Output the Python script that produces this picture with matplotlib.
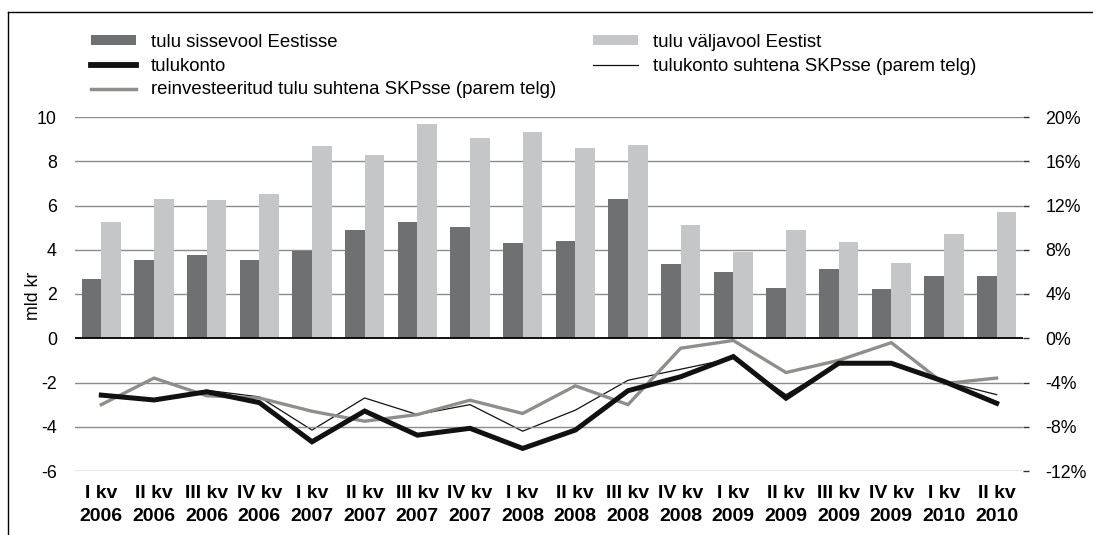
import numpy as np
import matplotlib
matplotlib.use("Agg")
import matplotlib.pyplot as plt
from matplotlib.patches import Patch
from matplotlib.lines import Line2D

plt.rcParams["font.family"] = ["Liberation Sans", "DejaVu Sans"]
plt.rcParams["axes.unicode_minus"] = False

quarters = ["I kv", "II kv", "III kv", "IV kv", "I kv", "II kv", "III kv", "IV kv",
            "I kv", "II kv", "III kv", "IV kv", "I kv", "II kv", "III kv", "IV kv",
            "I kv", "II kv"]
years = ["2006", "2006", "2006", "2006", "2007", "2007", "2007", "2007",
         "2008", "2008", "2008", "2008", "2009", "2009", "2009", "2009",
         "2010", "2010"]

# mld kr (left axis)
inflow = [2.7, 3.55, 3.78, 3.55, 3.96, 4.9, 5.27, 5.04, 4.32,
          4.38, 6.31, 3.37, 3.01, 2.25, 3.14, 2.24, 2.83, 2.83]
outflow = [5.27, 6.31, 6.27, 6.54, 8.71, 8.3, 9.7, 9.07, 9.34,
           8.6, 8.75, 5.14, 3.91, 4.91, 4.37, 3.42, 4.73, 5.72]
income_acc = [-2.57, -2.79, -2.42, -2.91, -4.68, -3.29, -4.38, -4.07, -4.98,
              -4.15, -2.37, -1.74, -0.83, -2.71, -1.13, -1.13, -1.95, -2.94]
# % of GDP (right axis)
income_acc_gdp = [-5.1, -5.5, -4.7, -5.3, -8.3, -5.4, -6.9, -6.0, -8.4,
                  -6.5, -3.8, -2.8, -1.8, -5.1, -2.3, -2.3, -3.9, -5.1]
reinvest_gdp = [-6.0, -3.6, -5.2, -5.4, -6.6, -7.5, -6.9, -5.6, -6.8,
                -4.3, -6.0, -0.9, -0.2, -3.1, -2.0, -0.4, -4.1, -3.6]

W, H = 1093, 535
fig = plt.figure(figsize=(W / 100, H / 100), dpi=100)

ax = fig.add_axes([75 / W, 1 - 471 / H, (1023 - 75) / W, (471 - 117) / H])
ax2 = ax.twinx()
ax.set_zorder(ax2.get_zorder() + 1)
ax.patch.set_visible(False)

x = np.arange(len(quarters))
bw = 0.374
dark = "#6f7072"
light = "#c5c6c8"
gray_line = "#8e8f8b"

ax.bar(x - bw / 2, inflow, bw, color=dark, zorder=2)
ax.bar(x + bw / 2, outflow, bw, color=light, zorder=2)
ax.plot(x, income_acc, color="#111111", lw=3.6, zorder=5, solid_joinstyle="miter")

ax2.plot(x, income_acc_gdp, color="#111111", lw=0.9, zorder=3)
ax2.plot(x, reinvest_gdp, color=gray_line, lw=2.4, zorder=4, solid_joinstyle="miter")

ax.set_xlim(-0.5, len(quarters) - 0.5)
ax.set_ylim(-6, 10)
ax2.set_ylim(-12, 20)
ax.set_yticks(np.arange(-6, 11, 2))
ax2.set_yticks(np.arange(-12, 21, 4))
ax2.set_yticklabels([f"{v}%" for v in range(-12, 21, 4)])

for v in np.arange(-6, 11, 2):
    if v == 0:
        ax.axhline(v, color="black", lw=1.3, zorder=3)
    else:
        ax.axhline(v, color="#8c8c8c", lw=1.0, zorder=1)

ax.set_xticks(x)
ax.set_xticklabels([f"{q}\n{y}" for q, y in zip(quarters, years)],
                   fontsize=14, fontweight="bold", linespacing=1.5)
ax.tick_params(axis="x", length=0, pad=10)
ax.tick_params(axis="y", length=0, labelsize=12.8, pad=13)
ax2.tick_params(axis="y", length=4, width=1, color="#333333", labelsize=12.8, pad=12)

for a in (ax, ax2):
    for s in a.spines.values():
        s.set_visible(False)

fig.text(33 / W, 1 - 296 / H, "mld kr", rotation=90, va="center", ha="center", fontsize=12.8)

# legend
h1 = [Patch(facecolor=dark, edgecolor="none"),
      Line2D([], [], color="#111111", lw=4.2),
      Line2D([], [], color=gray_line, lw=2.5)]
l1 = ["tulu sissevool Eestisse", "tulukonto",
      "reinvesteeritud tulu suhtena SKPsse (parem telg)"]
h2 = [Patch(facecolor=light, edgecolor="none"),
      Line2D([], [], color="#111111", lw=0.9)]
l2 = ["tulu väljavool Eestist", "tulukonto suhtena SKPsse (parem telg)"]
leg_kw = dict(loc="upper left", frameon=False, borderpad=0, borderaxespad=0,
              fontsize=13.4, handlelength=2.4, handleheight=0.45,
              handletextpad=0.8, labelspacing=0.36)
fig.legend(h1, l1, bbox_to_anchor=(91 / W, 1 - 34 / H), **leg_kw)
fig.legend(h2, l2, bbox_to_anchor=(593 / W, 1 - 34 / H), **leg_kw)

# outer frame (top and left edges visible)
fig.add_artist(Line2D([8 / W, 1], [1 - 12 / H, 1 - 12 / H], transform=fig.transFigure,
                      color="black", lw=1.0))
fig.add_artist(Line2D([8 / W, 8 / W], [0, 1 - 12 / H], transform=fig.transFigure,
                      color="black", lw=1.0))

fig.savefig("out.png", dpi=100)
